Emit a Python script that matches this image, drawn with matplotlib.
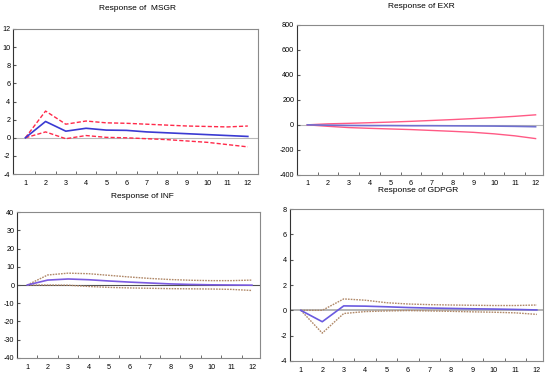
import matplotlib
matplotlib.use("Agg")
import matplotlib.pyplot as plt
import numpy as np

plt.rcParams['font.family'] = ['Liberation Sans', 'DejaVu Sans']

periods = list(range(1, 13))

msgr_resp = [0, 1.8, 0.73, 1.05, 0.85, 0.82, 0.65, 0.55, 0.45, 0.35, 0.25, 0.15]
msgr_up = [0, 2.95, 1.5, 1.85, 1.65, 1.6, 1.5, 1.4, 1.3, 1.25, 1.2, 1.3]
msgr_lo = [0, 0.65, -0.1, 0.25, 0.05, 0.0, -0.1, -0.2, -0.35, -0.5, -0.75, -1.0]

exr_resp = [0, -3, -5, -6, -6, -7, -7, -8, -9, -10, -12, -15]
exr_up = [0, 8, 12, 17, 22, 28, 35, 42, 50, 58, 68, 80]
exr_lo = [0, -12, -22, -28, -33, -38, -45, -52, -60, -72, -88, -110]

inf_resp = [0, 2.7, 3.3, 2.9, 2.2, 1.6, 1.1, 0.6, 0.3, 0.1, 0.0, -0.1]
inf_up = [0, 5.5, 6.5, 6.2, 5.3, 4.4, 3.6, 3.0, 2.6, 2.4, 2.4, 2.7]
inf_lo = [0, 0.0, -0.1, -0.8, -1.3, -1.6, -1.8, -2.0, -2.1, -2.2, -2.4, -3.0]

gdp_resp = [0, -0.9, 0.35, 0.33, 0.28, 0.22, 0.18, 0.15, 0.12, 0.1, 0.07, 0.03]
gdp_up = [0, 0.0, 0.9, 0.8, 0.6, 0.5, 0.45, 0.42, 0.4, 0.38, 0.38, 0.42]
gdp_lo = [0, -1.8, -0.25, -0.1, -0.05, -0.02, -0.05, -0.08, -0.12, -0.15, -0.2, -0.32]

titles = ["Response of  MSGR", "Response of EXR", "Response of INF", "Response of GDPGR"]

fig = plt.figure(figsize=(5.5, 3.76), dpi=100)

panels = [
    dict(rect=[0.024, 0.537, 0.445, 0.386], xlim=(0.4, 12.5), ylim=(-4, 12), yt=np.arange(-4, 13, 2),
         resp=msgr_resp, up=msgr_up, lo=msgr_lo, rc='#3a3ad2', bc='#ff2a4a', bls=(0, (3, 1.5)),
         zc='#b8b8b8', zw=0.8, title=titles[0], ty=0.978, tx=0.25),
    dict(rect=[0.540, 0.535, 0.447, 0.399], xlim=(0.5, 12.35), ylim=(-400, 800), yt=np.arange(-400, 801, 200),
         resp=exr_resp, up=exr_up, lo=exr_lo, rc='#7070d0', bc='#ff5a85', bls='-',
         zc='#b8b8b8', zw=0.8, title=titles[1], ty=0.981, tx=0.767),
    dict(rect=[0.031, 0.048, 0.442, 0.388], xlim=(0.5, 12.4), ylim=(-40, 40), yt=np.arange(-40, 41, 10),
         resp=inf_resp, up=inf_up, lo=inf_lo, rc='#7a5ae0', bc='#b08868', bls=(0, (1.2, 0.8)),
         zc='#505050', zw=0.8, title=titles[2], ty=0.478, tx=0.258),
    dict(rect=[0.527, 0.040, 0.460, 0.404], xlim=(0.49, 12.28), ylim=(-4, 8), yt=np.arange(-4, 9, 2),
         resp=gdp_resp, up=gdp_up, lo=gdp_lo, rc='#6a5ae0', bc='#b08868', bls=(0, (1.2, 0.8)),
         zc='#a8a8a8', zw=1.2, title=titles[3], ty=0.492, tx=0.76),
]

for p in panels:
    ax = fig.add_axes(p['rect'])
    ax.set_xlim(*p['xlim'])
    ax.set_ylim(*p['ylim'])
    ax.axhline(0, color=p['zc'], lw=p['zw'], zorder=1)
    ax.plot(periods, p['up'], color=p['bc'], lw=1.0, ls=p['bls'], zorder=2)
    ax.plot(periods, p['lo'], color=p['bc'], lw=1.0, ls=p['bls'], zorder=2)
    ax.plot(periods, p['resp'], color=p['rc'], lw=1.2, zorder=3)
    ax.set_yticks(p['yt'])
    ax.set_yticklabels([str(int(v)) for v in p['yt']], fontsize=5.2)
    ax.set_xticks(periods)
    ax.set_xticklabels([str(v) for v in periods], fontsize=5.2)
    ax.set_xticks(np.arange(1.5, 12.5, 1), minor=True)
    ax.tick_params(axis='x', which='major', length=0, pad=4)
    ax.tick_params(axis='x', which='minor', length=2.5, direction='in', color='#555555')
    ax.tick_params(axis='y', which='major', length=2, direction='in', pad=2, color='#555555')
    for side in ['top', 'right', 'bottom']:
        ax.spines[side].set_color('#8a8a8a')
        ax.spines[side].set_linewidth(0.8)
    ax.spines['left'].set_color('#333333')
    ax.spines['left'].set_linewidth(0.8)
    fig.text(p['tx'], p['ty'] + 0.01, p['title'], ha='center', va='top', fontsize=6.0)

fig.savefig('out.png', dpi=100)
